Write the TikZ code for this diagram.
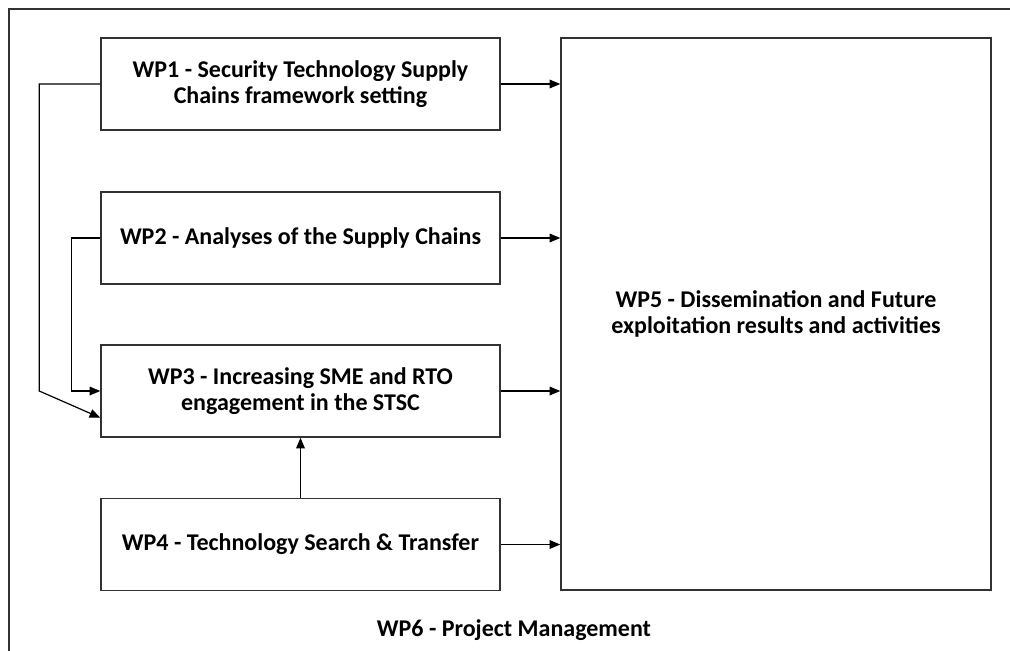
\documentclass[tikz,border=0pt]{standalone}
\usepackage{fontspec}
\setmainfont{Carlito}
\usetikzlibrary{arrows.meta,calc}

\tikzset{every picture/.style={line width=0.75pt}}
\tikzset{
  wpbox/.style={draw={rgb, 255:red, 50; green, 50; blue, 50}, line width=1.1pt, minimum width=399*0.75pt, minimum height=92*0.75pt, inner sep=0pt, align=center, font=\fontsize{18}{19.5}\selectfont\bfseries},
  wparrow/.style={draw=black, line width=0.9pt, -{Triangle[length=8pt,width=6.5pt]}}
}

\begin{document}
\begin{tikzpicture}[x=0.75pt,y=0.75pt,yscale=-1,xscale=1]
  \useasboundingbox (0,0) rectangle (1010,650);

  %Shape: Frame WP6
  \draw [draw={rgb, 255:red, 50; green, 50; blue, 50}, line width=1.1pt] (9,9) rectangle (1030,670);

  % Work packages
  \node [wpbox] (wp1) at (300.5,84) {WP1 - Security Technology Supply\\Chains framework setting};
  \node [wpbox] (wp2) at (300.5,238) {WP2 - Analyses of the Supply Chains};
  \node [wpbox] (wp3) at (300.5,391) {WP3 - Increasing SME and RTO\\engagement in the STSC};
  \node [wpbox] (wp4) at (300.5,544.5) {WP4 - Technology Search \& Transfer};
  \node [wpbox, minimum width=430*0.75pt, minimum height=552*0.75pt] (wp5) at (776,314) {WP5 - Dissemination and Future\\exploitation results and activities};
  % Text Node
  \node [font=\fontsize{18}{19.5}\selectfont\bfseries, inner sep=0pt] (wp6) at (514,630) {WP6 - Project Management};

  % Connectors
  \draw [wparrow] (wp1.east) -- (wp1.east -| wp5.west);
  \draw [wparrow] (wp2.east) -- (wp2.east -| wp5.west);
  \draw [wparrow] (wp3.east) -- (wp3.east -| wp5.west);
  \draw [wparrow] (wp4.east) -- (wp4.east -| wp5.west);
  \draw [wparrow] (wp4.north) -- (wp3.south);
  \draw [wparrow] (wp2.west) -- ++(-29,0) |- (wp3.west);
  \coordinate (wp3in) at ($(wp3.south west)+(0,-20)$);
  \draw [wparrow] (wp1.west) -- ++(-61,0) -- ($(wp3.west)+(-61,0)$) -- (wp3in);

\end{tikzpicture}
\end{document}
